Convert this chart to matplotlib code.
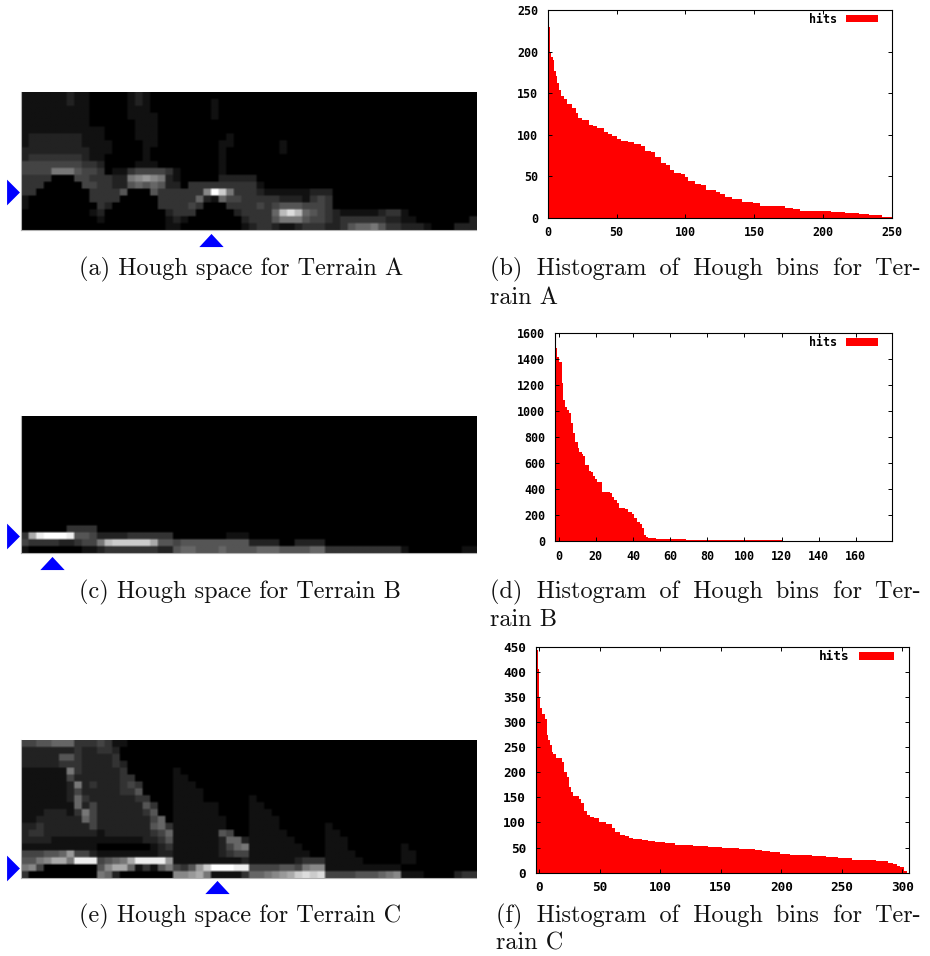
import matplotlib
matplotlib.use('Agg')
import matplotlib.pyplot as plt
from matplotlib.font_manager import FontProperties
import numpy as np
from matplotlib.patches import Patch

W, H = 930, 956

# Hough space images: one hex digit per cell (0 black .. f white), trailing zeros omitted
hough_a = """
1111112110 0000121000
1111112110 0000121000 0000010000
1111111110 0000111000 0000010000
1111111110 0000111100 0000010000
1111111110 0000011100
1111111111 1000011100
1222222211 1000011100 0000000100
1222222211 1100001100 0000001100 0000100000
2222222221 1100001000 0000001000 0000100000
2333333321 1000001000 0000001000
4444444433 2000011100 0000001000
4444777544 3011344443 1000001000
3333000443 3322789872 1000002222 2000000000
3330000044 3322565652 2033333333 3100000000 0000000000
3300000003 3335000533 33338fc733 3211111122 2000000000
1000000003 3330000033 3336216443 3333222134 3000000000
1000000000 3200000033 3343000333 3434555444 3000000000
0000000001 2000000002 3330000023 3336bdb654 3211111233 1000000000
0000000000 1000000001 2100000002 3335777544 3233333322 1100000002
0000000000 0000000001 1000000001 2332112333 2235667533 2221000222
"""
hough_b = """
0000003333 0000000000
3aefffe554 2222333333 0000000111
4333322344 7bccccca55 4555555555 2222002222
1000000011 2333333322 5665556555 5666555566 3333333333 1000000011
"""
hough_c = """
4455666333 4311000000
2222222322 3320000000
2222255322 2230000000
2222233322 2232000000
1111117322 2223000000 1000000000
1111114222 2223300000 1100000000
1111112723 2223430000 1110000000
1111112422 2223350000 1111000000
1111112632 2222233000 1111000000 1000000000
1111111624 2222225300 1111110000 1100000000
1112221374 2222223500 1111110000 1110000000
1122222264 2222222460 1111111000 1111000000
2232222224 2222222563 1111111000 1111000000 1000000000
2332222222 1222222346 1111115400 1111100000 1100000000
2222111111 1111112235 1111112662 1111110000 1110000000
1111111111 0000000123 1111112467 1111111000 1110000000 1000000000
4445569442 1111111122 1111112344 1111111100 1111000000 1100000000
5578aa7eee 4567aeeee9 1111111112 1111112333 1111100000 1100000000
7840000000 58aa613157 4359cfffee 4444554788 1111111111 0000000000
3000000000 7620000000 889a711113 66789acdcd 4444555678 1110000233
"""

# Peak markers (column, row) in each Hough image
peak_cols = [24.5, 3.6, 25.4]
peak_rows = [14.0, 17.0, 18.1]

# Histogram of Hough bins: step edges and heights
edges_a = [0, 1.7, 2.7, 3.6, 4.8, 5.8, 7, 8.2, 9.4, 12, 13.8, 17.4, 20.3, 22.3, 25, 30, 33, 36, 41, 44, 47, 50, 53, 58, 63,
           68, 71, 75, 78, 82, 86, 89, 92, 97, 100, 102, 107, 111, 115, 122, 125, 129, 134, 141, 149, 154,
           172, 178, 183, 206, 216, 226, 233, 243, 250]
hits_a = [229, 199, 194, 190, 176, 170, 162, 154, 147, 143, 137, 132, 126, 120, 118, 112, 110, 108,
          103, 101, 98, 95, 92, 91, 89, 86, 80, 79, 73, 66, 63, 58, 54, 52, 49, 44, 41, 39, 33, 31, 28, 25,
          23, 19, 18, 14, 12, 10, 8, 7, 6, 4, 3, 1]

edges_b = [-2, -0.7, 0.4, 1.6, 2.5, 3.4, 4.3, 5.6, 6.5, 7.9, 9, 10.2, 11.1, 12.4, 13.3, 14.4, 16.3, 17.2, 18.3,
           19.4, 20.5, 23.3, 27.6, 28.5, 29.8, 31.2, 32.3, 35.7, 37.5, 39.3, 40.6, 42, 43.8, 45.1, 46, 47,
           48.3, 52.4, 68.4, 120.1]
hits_b = [1485, 1415, 1382, 1215, 1087, 1036, 1010, 990, 908, 830, 767, 715, 690, 670, 660, 590, 543, 533, 505,
          477, 455, 382, 370, 344, 318, 292, 254, 246, 228, 208, 177, 151, 131, 100, 49, 36, 28, 18, 10]

edges_c = [-2.75, -1.2, -0.2, 0.5, 2.8, 5, 6.6, 7.7, 9.1, 10.5, 11.8, 13.8, 18.7, 20.6, 23.4, 25, 26.4, 28.4,
           32.8, 35, 37.2, 39.4, 42.1, 45.4, 49.8, 55.3, 60, 62.8, 66.9, 71, 74.6, 77.9, 84.8, 90.3, 95.8, 104,
           112.3, 126.9, 139.8, 151.4, 165.2, 178.4, 184.4, 190.8, 199, 207.3, 225.2, 237, 247.2, 258.5, 273.3,
           278.3, 287.9, 292.6, 295.3, 298.1, 301.4, 304.2]
hits_c = [443, 405, 350, 327, 316, 307, 274, 265, 254, 241, 236, 228, 221, 201, 190, 170, 161, 153, 146, 138,
          123, 115, 110, 108, 101, 97, 90, 82, 76, 74, 70, 68, 66, 63, 61, 59, 56, 54, 52, 50, 47, 45, 43, 41,
          38, 36, 34, 32, 29, 26, 25, 23, 20, 17, 13, 11, 4]

xticks_a = [0, 50, 100, 150, 200, 250]
yticks_a = [0, 50, 100, 150, 200, 250]
xticks_b = [0, 20, 40, 60, 80, 100, 120, 140, 160]
yticks_b = [0, 200, 400, 600, 800, 1000, 1200, 1400, 1600]
xticks_c = [0, 50, 100, 150, 200, 250, 300]
yticks_c = [0, 50, 100, 150, 200, 250, 300, 350, 400, 450]

GAP1, GAP2 = ' \u2005', ' \u2009'
captions = [
    (79, 275, "(a) Hough space for Terrain A"),
    (490, 275, "(b)" + GAP1 + "Histogram" + GAP2 + "of" + GAP1 + "Hough" + GAP2 + "bins" + GAP1 + "for" + GAP2 + "Ter-"),
    (490, 304, "rain A"),
    (79, 598, "(c) Hough space for Terrain B"),
    (490, 598, "(d)" + GAP1 + "Histogram" + GAP2 + "of" + GAP1 + "Hough" + GAP2 + "bins" + GAP1 + "for" + GAP2 + "Ter-"),
    (490, 626, "rain B"),
    (79, 922, "(e) Hough space for Terrain C"),
    (496, 922, "(f)" + GAP1 + "Histogram" + GAP2 + "of" + GAP1 + "Hough" + GAP2 + "bins" + GAP1 + "for" + GAP2 + "Ter-"),
    (496, 950, "rain C"),
]

CAPTION_SIZE = 17.5

fig = plt.figure(figsize=(W / 100, H / 100), dpi=100, facecolor='white')


def add_px_axes(x0, y0, x1, y1):
    return fig.add_axes([x0 / W, 1 - y1 / H, (x1 - x0) / W, (y1 - y0) / H])


def parse(block):
    rows = [r.replace(' ', '') for r in block.strip('\n').split('\n')]
    rows = [''] * (20 - len(rows)) + rows
    return np.array([[int(c, 16) / 15 for c in r.ljust(60, '0')[:60]] for r in rows])


def hough(rect, block, col, row, ybelow):
    ax = add_px_axes(*rect)
    cells = parse(block)
    soft = np.repeat(np.repeat(cells, 3, axis=0), 3, axis=1)
    ax.imshow(soft, cmap='gray', vmin=0, vmax=1, aspect='auto', interpolation='bilinear',
              extent=(-0.5, 59.5, 19.5, -0.5))
    ax.set_xticks([])
    ax.set_yticks([])
    for s in ('top', 'right'):
        ax.spines[s].set_visible(False)
    for s in ('left', 'bottom'):
        ax.spines[s].set_color('#b0b0b0')
        ax.spines[s].set_linewidth(0.8)
    right = [(-0.5, -1), (0.5, 0), (-0.5, 1)]
    up = [(-1, -0.54), (0, 0.54), (1, -0.54)]
    ax.plot([-1.62], [row], marker=right, ms=18.5, color='#0000ff', mew=0, clip_on=False, ls='none')
    ax.plot([col], [ybelow], marker=up, ms=17.5, color='#0000ff', mew=0, clip_on=False, ls='none')
    ax.set_xlim(-0.5, 59.5)
    ax.set_ylim(19.5, -0.5)


def histogram(rect, edges, hits, xlim, ylim, xticks, yticks, legend_off, size):
    mono = FontProperties(family='DejaVu Sans Mono', weight='bold', size=size)
    ax = add_px_axes(*rect)
    ax.stairs(hits, edges, fill=True, color='#ff0000', lw=0)
    ax.set_xlim(*xlim)
    ax.set_ylim(*ylim)
    ax.set_xticks(xticks)
    ax.set_yticks(yticks)
    ax.tick_params(direction='in', top=True, right=True, length=2.6, width=0.7)
    ax.tick_params(axis='x', pad=6)
    ax.tick_params(axis='y', pad=7)
    for lab in ax.get_xticklabels() + ax.get_yticklabels():
        lab.set_fontproperties(mono)
    for s in ax.spines.values():
        s.set_linewidth(0.8)
    ax.legend(handles=[Patch(facecolor='#ff0000', edgecolor='none', label='hits')],
              loc='upper right', bbox_to_anchor=legend_off, markerfirst=False, frameon=False,
              prop=mono,
              handlelength=2.74, handleheight=0.6, handletextpad=0.74, borderpad=0, borderaxespad=0)


hough((21, 92.3, 476, 230.3), hough_a, peak_cols[0], peak_rows[0], 20.9)
hough((21, 416, 476, 553.3), hough_b, peak_cols[1], peak_rows[1], 20.9)
hough((21, 740, 476, 877.7), hough_c, peak_cols[2], peak_rows[2], 20.9)

histogram((547.7, 10, 892, 217.7), edges_a, hits_a, (0, 250), (0, 250), xticks_a, yticks_a, (0.958, 0.987), 8.4)
histogram((555, 333.3, 892, 541.3), edges_b, hits_b, (-2, 179.5), (0, 1600), xticks_b, yticks_b, (0.958, 0.987), 8.4)
histogram((535.7, 646.7, 909, 872.7), edges_c, hits_c, (-2.75, 305.5), (0, 450), xticks_c, yticks_c, (0.96, 0.985), 9.2)

for x, y, s in captions:
    fig.text(x / W, 1 - y / H, s, family=['cmr10', 'DejaVu Serif'], size=CAPTION_SIZE, ha='left', va='baseline', color='#111111')

fig.savefig('out.png', dpi=100)
